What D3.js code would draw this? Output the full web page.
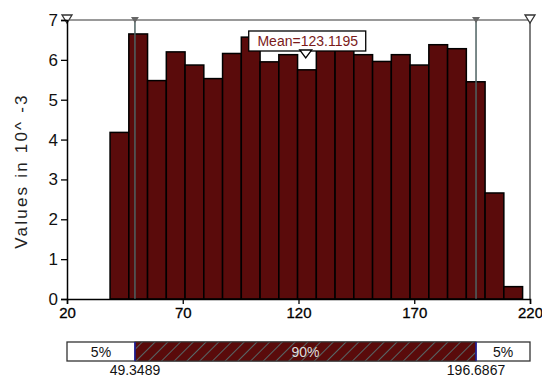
<!DOCTYPE html>
<html><head><meta charset="utf-8">
<script src="https://cdn.jsdelivr.net/npm/d3@7"></script>
<style>body{margin:0;background:#fff}svg{display:block}text{font-family:"Liberation Sans",Arial,sans-serif}</style>
</head><body><svg id="c" width="542" height="378"></svg>
<script>
const binLeft = [38.6,46.7,54.8,62.9,71.0,79.1,87.2,95.3,103.4,111.5,119.6,127.7,135.8,143.9,152.0,160.1,168.2,176.3,184.4,192.5,200.6,208.7];
const binRight = [46.7,54.8,62.9,71.0,79.1,87.2,95.3,103.4,111.5,119.6,127.7,135.8,143.9,152.0,160.1,168.2,176.3,184.4,192.5,200.6,208.7,216.8];
const values = [4.18,6.65,5.48,6.2,5.87,5.53,6.16,6.57,5.95,6.13,5.75,6.3,6.28,6.13,5.96,6.13,5.87,6.38,6.28,5.45,2.66,0.31];
const xTicks = [20,70,120,170,220];
const yTicks = [0,1,2,3,4,5,6,7];
const leftCut = 49.3489, rightCut = 196.6867, meanVal = 123.1195;
const leftPct = "5%", midPct = "90%", rightPct = "5%";
const yLabel = "Values in 10^ -3";

const svg = d3.select("#c");
const L=67,R=530,T=20,B=299;
const x = d3.scaleLinear().domain([20,220]).range([L,R]);
const y = d3.scaleLinear().domain([0,7]).range([B,T]);

const defs = svg.append("defs");
const pat = defs.append("pattern").attr("id","hatch").attr("patternUnits","userSpaceOnUse")
  .attr("width",9).attr("height",9).attr("patternTransform","rotate(45)");
pat.append("rect").attr("width",9).attr("height",9).attr("fill","#5a0b0b");
pat.append("line").attr("x1",0).attr("y1",0).attr("x2",0).attr("y2",9).attr("stroke","#557070").attr("stroke-width",1.8);

// bars
svg.append("g").selectAll("rect").data(values).join("rect")
  .attr("x",(d,i)=>x(binLeft[i])).attr("width",(d,i)=>x(binRight[i])-x(binLeft[i]))
  .attr("y",d=>y(d)).attr("height",d=>y(0)-y(d))
  .attr("fill","#5a0b0b").attr("stroke","#000").attr("stroke-width",1.5);

// top frame line and right line
svg.append("line").attr("x1",L).attr("x2",R).attr("y1",T).attr("y2",T).attr("stroke","#777").attr("stroke-width",1.5);
svg.append("line").attr("x1",R).attr("x2",R).attr("y1",T).attr("y2",B).attr("stroke","#555").attr("stroke-width",1.5);

// cut lines
[leftCut,rightCut].forEach(v=>{
  svg.append("line").attr("x1",x(v)).attr("x2",x(v)).attr("y1",T).attr("y2",B).attr("stroke","#4e6262").attr("stroke-width",1.5);
  svg.append("path").attr("d",`M${x(v)-4},${T-3}L${x(v)+4},${T-3}L${x(v)},${T+3}Z`).attr("fill","#666");
});
[20,220].forEach(v=>{
  svg.append("path").attr("d",`M${x(v)-5},${T-5}L${x(v)+5},${T-5}L${x(v)},${T+3}Z`).attr("fill","#fff").attr("stroke","#333").attr("stroke-width",1.3);
});

// axes
const yAxis = svg.append("g").attr("transform",`translate(${L},0)`)
  .call(d3.axisLeft(y).tickValues(yTicks).tickSize(6).tickPadding(3).tickFormat(d3.format("d")));
yAxis.select(".domain").attr("stroke","#000").attr("stroke-width",1.5);
yAxis.selectAll("text").attr("font-size",17).attr("fill","#111");
yAxis.selectAll(".tick line").attr("stroke","#000").attr("stroke-width",1.3);

const xAxis = svg.append("g").attr("transform",`translate(0,${B})`)
  .call(d3.axisBottom(x).tickValues(xTicks).tickSize(5).tickPadding(3).tickFormat(d3.format("d")));
xAxis.select(".domain").attr("stroke","#000").attr("stroke-width",1.5);
xAxis.selectAll("text").attr("font-size",15).attr("fill","#000").attr("stroke","#000").attr("stroke-width",0.3);
xAxis.selectAll(".tick line").attr("stroke","#000").attr("stroke-width",1.3);

svg.append("text").attr("transform",`translate(27,171) rotate(-90)`).attr("text-anchor","middle")
  .attr("font-size",17).attr("letter-spacing",2.2).attr("fill","#222").text(yLabel);

// mean label
const mx = x(meanVal);
svg.append("rect").attr("x",mx-57).attr("y",31).attr("width",117).attr("height",20)
  .attr("fill","#fff").attr("stroke","#000").attr("stroke-width",1.3);
svg.append("text").attr("x",mx+2).attr("y",46).attr("text-anchor","middle").attr("font-size",14)
  .attr("fill","#7a1a1a").text("Mean=" + meanVal);
svg.append("path").attr("d",`M${mx-6},${50}L${mx+6},${50}L${mx},${58}Z`).attr("fill","#fff").attr("stroke","#000").attr("stroke-width",1.3);

// bottom percentile bar
const by=342, bh=19;
svg.append("rect").attr("x",x(20)).attr("y",by).attr("width",x(220)-x(20)).attr("height",bh).attr("fill","#fff").attr("stroke","#333").attr("stroke-width",1.3);
svg.append("rect").attr("x",x(leftCut)).attr("y",by).attr("width",x(rightCut)-x(leftCut)).attr("height",bh).attr("fill","url(#hatch)").attr("stroke","#333").attr("stroke-width",1);
[leftCut,rightCut].forEach(v=>svg.append("line").attr("x1",x(v)).attr("x2",x(v)).attr("y1",by).attr("y2",by+bh).attr("stroke","#1a1aa0").attr("stroke-width",1.5));
svg.append("text").attr("x",(x(20)+x(leftCut))/2).attr("y",by+15).attr("text-anchor","middle").attr("font-size",14).attr("fill","#111").text(leftPct);
svg.append("text").attr("x",(x(leftCut)+x(rightCut))/2).attr("y",by+15).attr("text-anchor","middle").attr("font-size",14).attr("fill","#ddd").text(midPct);
svg.append("text").attr("x",(x(rightCut)+x(220))/2).attr("y",by+15).attr("text-anchor","middle").attr("font-size",14).attr("fill","#111").text(rightPct);
svg.append("text").attr("x",x(leftCut)).attr("y",by+bh+14).attr("text-anchor","middle").attr("font-size",14).attr("fill","#111").text(leftCut.toFixed(4));
svg.append("text").attr("x",x(rightCut)).attr("y",by+bh+14).attr("text-anchor","middle").attr("font-size",14).attr("fill","#111").text(rightCut.toFixed(4));
</script></body></html>
